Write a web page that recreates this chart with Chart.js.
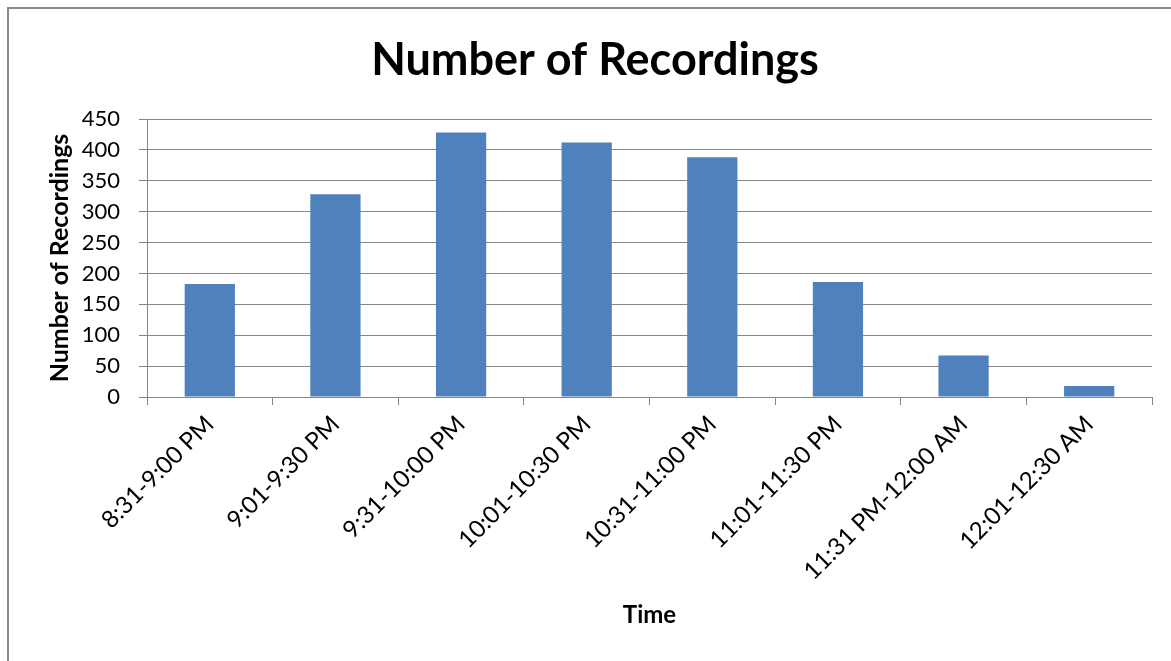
<!DOCTYPE html>
<html>
<head>
<meta charset="utf-8">
<script src="https://cdn.jsdelivr.net/npm/chart.js@4.4.1/dist/chart.umd.min.js"></script>
<style>
  html, body { margin: 0; padding: 0; background: #fff; overflow: hidden; width: 1171px; height: 661px; }
  #frame { position: absolute; left: 7px; top: 7px; width: 1300px; height: 800px; border-left: 2px solid #898989; border-top: 2px solid #898989; box-sizing: border-box; }
  #c { position: absolute; left: 0; top: 0; }
</style>
</head>
<body>
<div id="frame"></div>
<canvas id="c" width="1171" height="661"></canvas>
<script>
const categories = ["8:31-9:00 PM", "9:01-9:30 PM", "9:31-10:00 PM", "10:01-10:30 PM", "10:31-11:00 PM", "11:01-11:30 PM", "11:31 PM-12:00 AM", "12:01-12:30 AM"];
const recordings = [183, 328, 428, 412, 388, 186, 67, 18];
const chartTitle = "Number of Recordings";
const xTitle = "Time";
const yTitle = "Number of Recordings";
const yMin = 0, yMax = 450, yStep = 50;

const FONT = "Lato, 'Open Sans', sans-serif";
const GRID = "#868686";

new Chart(document.getElementById("c"), {
  type: "bar",
  data: {
    labels: categories,
    datasets: [{
      label: yTitle,
      data: recordings,
      backgroundColor: "#4F81BD",
      borderWidth: 0,
      categoryPercentage: 1.0,
      barPercentage: 0.4
    }]
  },
  options: {
    responsive: false,
    animation: false,
    devicePixelRatio: 1,
    layout: { padding: { left: 38, right: 19, top: 0, bottom: 0 } },
    plugins: {
      legend: { display: false },
      tooltip: { enabled: false },
      title: {
        display: true,
        text: chartTitle,
        color: "#000",
        font: { family: FONT, size: 45, weight: "bold" },
        padding: { top: 33, bottom: 32 }
      }
    },
    scales: {
      x: {
        afterFit: (s) => { s.height = 264; },
        grid: { offset: true, drawOnChartArea: false, drawTicks: true, tickLength: 8, color: GRID, lineWidth: 1 },
        border: { display: true, color: GRID, width: 1 },
        ticks: { color: "#000", font: { family: FONT, size: 24 }, minRotation: 45, maxRotation: 45, autoSkip: false, padding: 5 },
        title: { display: true, text: xTitle, color: "#000", font: { family: FONT, size: 24, weight: "bold" }, padding: { top: 0, bottom: 31 } }
      },
      y: {
        min: yMin,
        max: yMax,
        afterFit: (s) => { s.width = 109; },
        grid: { color: GRID, lineWidth: 1, drawTicks: true, tickLength: 8 },
        border: { display: true, color: GRID, width: 1 },
        ticks: { stepSize: yStep, color: "#000", font: { family: FONT, size: 22 }, padding: 19 },
        title: { display: true, text: yTitle, color: "#000", font: { family: FONT, size: 25, weight: "bold" }, padding: { top: 7, bottom: 0 } }
      }
    }
  }
});
</script>
</body>
</html>
